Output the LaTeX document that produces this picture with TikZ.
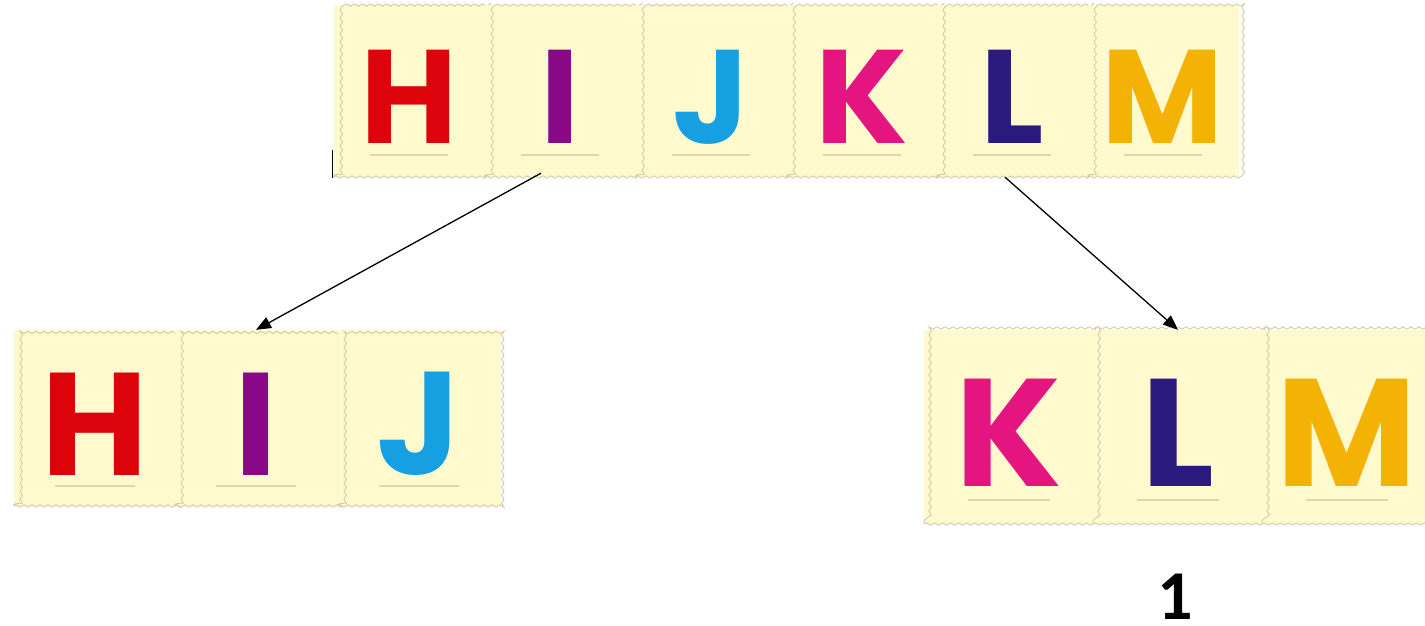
\documentclass[tikz,border=0pt]{standalone}
\usepackage{fontspec}
\newfontfamily\letterfont{Poppins}
\newfontfamily\numfont{Carlito}
\usetikzlibrary{arrows.meta,decorations.pathmorphing,calc}
\definecolor{tilefill}{RGB}{255,249,206}
\definecolor{tileedge}{RGB}{210,204,172}
\definecolor{ulinecol}{RGB}{222,214,178}
\definecolor{cH}{RGB}{220,4,10}
\definecolor{cI}{RGB}{136,8,136}
\definecolor{cJ}{RGB}{22,160,226}
\definecolor{cK}{RGB}{228,20,128}
\definecolor{cL}{RGB}{42,26,125}
\definecolor{cM}{RGB}{244,178,4}
\begin{document}
\begin{tikzpicture}[x=1pt,y=-1pt,
  tile/.style={rectangle, inner sep=0pt, fill=tilefill,
    postaction={decorate, draw=tileedge, line width=0.9pt,
      decoration={snake, amplitude=1.2pt, segment length=8pt}}},
  toptile/.style={tile, minimum width=151pt, minimum height=172pt},
  lefttile/.style={tile, minimum width=163pt, minimum height=176pt},
  righttile/.style={tile, minimum width=170pt, minimum height=194pt},
  glyph/.style={inner sep=0pt},
  topglyph/.style={glyph, font=\letterfont\bfseries\fontsize{133}{133}\selectfont},
  leftglyph/.style={glyph, font=\letterfont\bfseries\fontsize{146}{146}\selectfont},
  rightglyph/.style={glyph, font=\letterfont\bfseries\fontsize{153}{153}\selectfont},
  uline/.style={draw=ulinecol, line width=1.6pt},
  arrow/.style={draw=black, line width=1.3pt, -{Triangle[length=15pt,width=12pt]}},
  numlabel/.style={inner sep=0pt, font=\numfont\bfseries\fontsize{70}{70}\selectfont}
]
\useasboundingbox (0,0) rectangle (1425,625);
\begin{scope}
\clip (0,0) rectangle (1425,625);
% top row
\node[toptile] (t1) at (409,91) {};
\node[toptile] (t2) at (560,91) {};
\node[toptile] (t3) at (711,91) {};
\node[toptile] (t4) at (862,91) {};
\node[toptile] (t5) at (1012,91) {};
\node[toptile] (t6) at (1163,91) {};
% bottom left
\node[lefttile] (l1) at (95,418) {};
\node[lefttile] (l2) at (256,418) {};
\node[lefttile] (l3) at (419,418) {};
% bottom right
\node[righttile] (r1) at (1009,427) {};
\node[righttile] (r2) at (1178,427) {};
\node[righttile] (r3) at (1347,427) {};
% underlines
\foreach \t in {t1,t2,t3,t4,t5,t6}{
  \draw[uline] ($(\t.south)+(-39,-22)$) -- ($(\t.south)+(39,-22)$);}
\foreach \t in {l1,l2,l3}{
  \draw[uline] ($(\t.south)+(-40,-20)$) -- ($(\t.south)+(40,-20)$);}
\foreach \t in {r1,r2,r3}{
  \draw[uline] ($(\t.south)+(-41,-24)$) -- ($(\t.south)+(41,-24)$);}
% letters top
\node[topglyph, text=cH] (gt1) at ($(t1.center)+(0,6)$) {H};
\node[topglyph, text=cI] (gt2) at ($(t2.center)+(0,6)$) {I};
\node[topglyph, text=cJ] (gt3) at ($(t3.center)+(0,6)$) {J};
\node[topglyph, text=cK] (gt4) at ($(t4.center)+(0,6)$) {K};
\node[topglyph, text=cL] (gt5) at ($(t5.center)+(0,6)$) {L};
\node[topglyph, text=cM] (gt6) at ($(t6.center)+(0,6)$) {M};
% letters bottom left
\node[leftglyph, text=cH] (gl1) at ($(l1.center)+(0,6)$) {H};
\node[leftglyph, text=cI] (gl2) at ($(l2.center)+(0,6)$) {I};
\node[leftglyph, text=cJ] (gl3) at ($(l3.center)+(0,6)$) {J};
% letters bottom right
\node[rightglyph, text=cK] (gr1) at ($(r1.center)+(0,6)$) {K};
\node[rightglyph, text=cL] (gr2) at ($(r2.center)+(0,6)$) {L};
\node[rightglyph, text=cM] (gr3) at ($(r3.center)+(0,6)$) {M};
% stray mark
\draw[line width=1.5pt] ($(t1.south west)+(-1,1)$) -- ($(t1.south west)+(-1,-27)$);
% arrows
\draw[arrow] ($(t2.south)+(-19,-4)$) -- (l2.north);
\draw[arrow] ($(t5.south)+(-7,0)$) -- (r2.north);
% label
\node[numlabel] (n1) at (1175,597) {1};
\end{scope}
\end{tikzpicture}
\end{document}
